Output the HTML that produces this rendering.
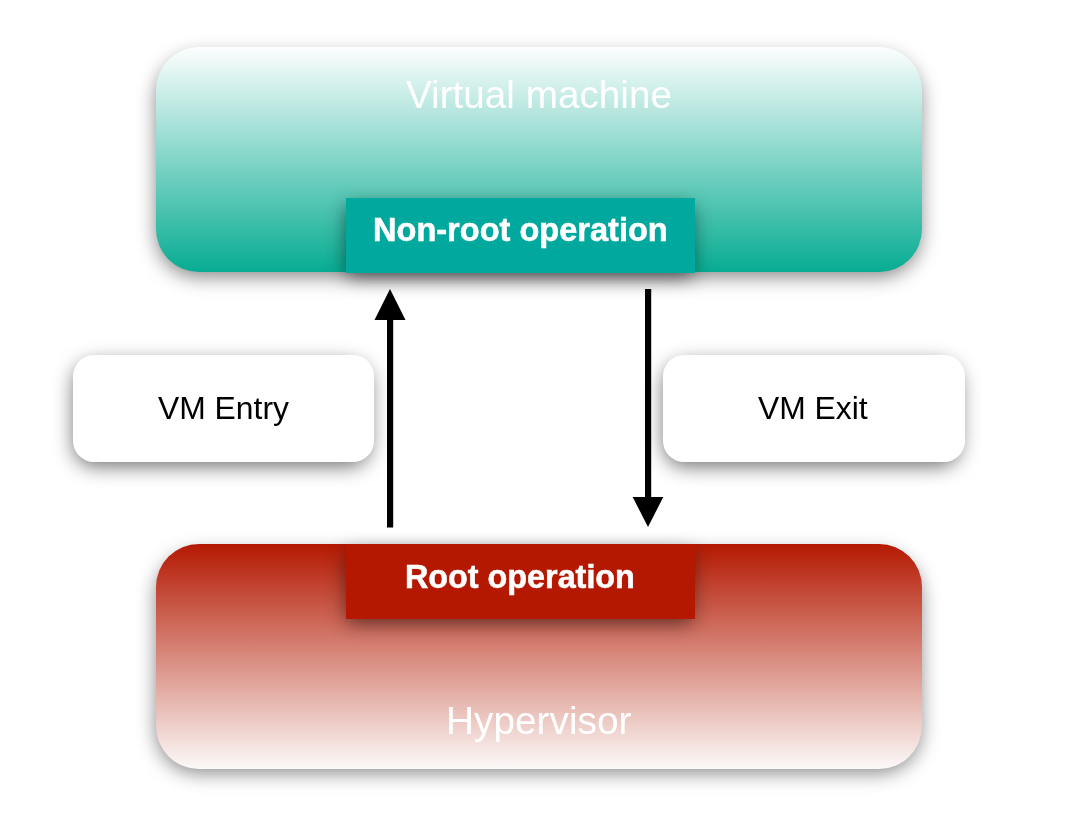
<!DOCTYPE html>
<html>
<head>
<meta charset="utf-8">
<style>
html,body{margin:0;padding:0;background:#fff;}
body{width:1080px;height:828px;position:relative;overflow:hidden;font-family:"Liberation Sans",sans-serif;-webkit-font-smoothing:antialiased;}
.abs{position:absolute;}
.t{position:absolute;white-space:nowrap;line-height:1;will-change:transform;}
</style>
</head>
<body>
<div class="abs" style="left:155.90px;top:55.70px;width:765.30px;height:220.90px;border-radius:43px;background:rgba(0,0,0,0.47);filter:blur(9.50px);"></div>
<div class="abs" style="left:155.60px;top:47.00px;width:766.60px;height:225.35px;border-radius:43px;background:linear-gradient(to bottom,#fdfefe 0%,#07ac92 100%);"></div>
<div class="abs" style="left:346.80px;top:206.30px;width:345.00px;height:70.50px;border-radius:0px;background:rgba(0,0,0,0.56);filter:blur(9.75px);"></div>
<div class="abs" style="left:346.00px;top:197.80px;width:348.80px;height:74.80px;background:#00a89e;"></div>
<div class="abs" style="left:156.00px;top:552.90px;width:765.30px;height:220.55px;border-radius:43px;background:rgba(0,0,0,0.47);filter:blur(9.50px);"></div>
<div class="abs" style="left:155.70px;top:544.20px;width:766.60px;height:225.00px;border-radius:43px;background:linear-gradient(to bottom,#b41902 0%,#fcfaf9 100%);"></div>
<div class="abs" style="left:346.80px;top:552.70px;width:345.00px;height:70.60px;border-radius:0px;background:rgba(0,0,0,0.56);filter:blur(9.75px);"></div>
<div class="abs" style="left:346.00px;top:544.20px;width:348.80px;height:74.90px;background:#b41800;"></div>
<div class="abs" style="left:73.96px;top:363.46px;width:295.74px;height:102.34px;border-radius:21px;background:rgba(0,0,0,0.58);filter:blur(10.10px);"></div>
<div class="abs" style="left:72.90px;top:355.00px;width:301.60px;height:106.60px;border-radius:21px;background:#fff;"></div>
<div class="abs" style="left:664.46px;top:363.46px;width:295.54px;height:102.34px;border-radius:21px;background:rgba(0,0,0,0.58);filter:blur(10.10px);"></div>
<div class="abs" style="left:663.40px;top:355.00px;width:301.40px;height:106.60px;border-radius:21px;background:#fff;"></div>
<div class="t" id="t1" style="left:405.5px;top:75.8px;font-size:38.7px;color:#fff;">Virtual machine</div>
<div class="t" id="t2" style="left:373.2px;top:214px;font-size:32.55px;color:#fff;font-weight:bold;-webkit-text-stroke:0.55px #fff;">Non-root operation</div>
<div class="t" id="t3" style="left:158.2px;top:392.5px;font-size:31.85px;color:#000;">VM Entry</div>
<div class="t" id="t4" style="left:758.4px;top:392.5px;font-size:31.85px;color:#000;">VM Exit</div>
<div class="t" id="t5" style="left:405.2px;top:560.8px;font-size:32.35px;color:#fff;font-weight:bold;-webkit-text-stroke:0.55px #fff;">Root operation</div>
<div class="t" id="t6" style="left:445.6px;top:702.3px;font-size:38.8px;color:#fff;">Hypervisor</div>
<svg class="abs" style="left:0;top:0" width="1080" height="828" viewBox="0 0 1080 828">
  <rect x="387" y="318" width="6.2" height="209.5" fill="#000"/>
  <polygon points="390,289 374.5,320 405.5,320" fill="#000"/>
  <rect x="645" y="289" width="6.2" height="210" fill="#000"/>
  <polygon points="648,527 632.7,497 663.3,497" fill="#000"/>
</svg>
</body>
</html>
